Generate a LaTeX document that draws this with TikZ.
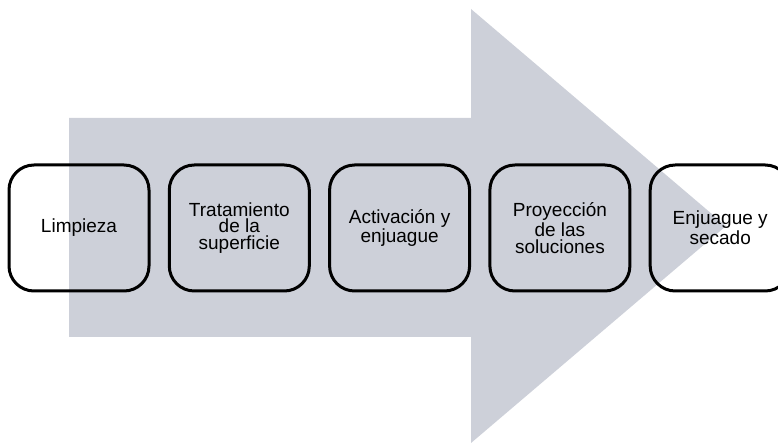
\documentclass[tikz,border=0pt]{standalone}
\usepackage{fontspec}
\setmainfont{Liberation Sans}
\usepackage{xcolor}

\begin{document}
\begin{tikzpicture}[x=0.5pt,y=-0.5pt,
  stepnode/.style={draw,line width=1.5pt,rounded corners=12.5pt,minimum width=70pt,minimum height=63pt,align=center,inner sep=2pt,font=\fontsize{9.5pt}{8.4pt}\selectfont}]
\definecolor{arrowgray}{HTML}{CDD0D9}
\useasboundingbox (0,0) rectangle (778,443);
\clip (0,0) rectangle (778,443);
\fill[arrowgray] (69,118) -- (471,118) -- (471,9) -- (726,226) -- (471,443) -- (471,337) -- (69,337) -- cycle;
  \foreach \txt/\pos in {{Limpieza}/0,{Tratamiento\\de la\\superficie}/1,{Activaci\'on y\\enjuague}/2,{Proyecci\'on\\de las\\soluciones}/3,{Enjuague y\\secado}/4}
  {  \node [stepnode] (paso\pos) at (79+160.3*\pos,228) {\txt};}
\end{tikzpicture}
\end{document}
